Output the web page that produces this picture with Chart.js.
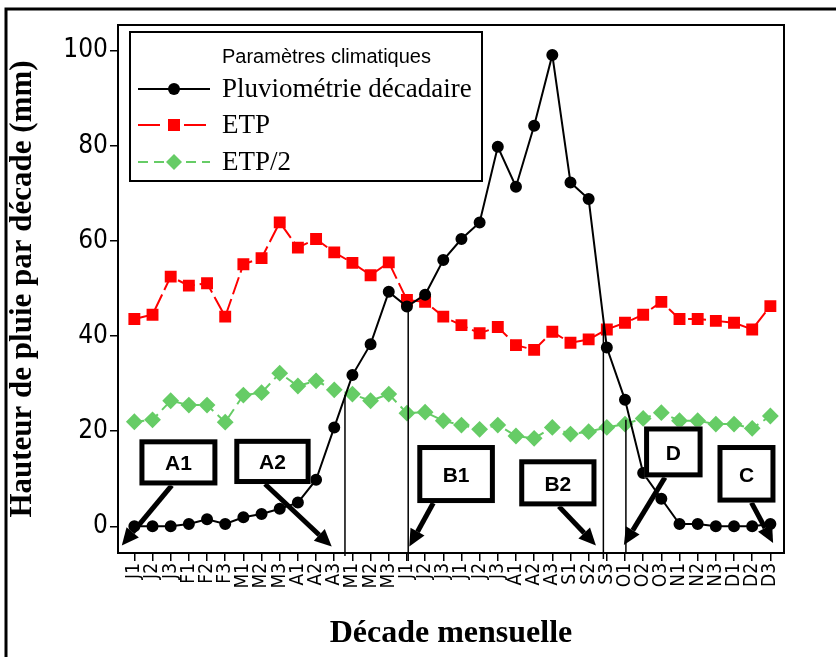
<!DOCTYPE html>
<html lang="fr">
<head>
  <meta charset="utf-8">
  <title>Pluviométrie décadaire et ETP</title>
  <script src="https://cdn.jsdelivr.net/npm/chart.js"></script>
  <style>
    html, body { margin: 0; padding: 0; background: #fff; }
  </style>
</head>
<body>
  <canvas id="graphe" width="836" height="657"></canvas>

  <script>
    // Décades de l'année (axe des x)
    const decades = ['J1','J2','J3','F1','F2','F3','M1','M2','M3','A1','A2','A3',
                     'M1','M2','M3','J1','J2','J3','J1','J2','J3','A1','A2','A3',
                     'S1','S2','S3','O1','O2','O3','N1','N2','N3','D1','D2','D3'];

    // Séries (mm)
    const pluvio = [0, 0, 0, 0.5, 1.5, 0.5, 1.9, 2.6, 3.7, 5.0, 9.8, 20.8,
                    31.8, 38.3, 49.3, 46.2, 48.7, 56.0, 60.4, 63.9, 79.8, 71.4, 84.2, 99.1,
                    72.3, 68.8, 37.6, 26.6, 11.2, 5.8, 0.5, 0.5, 0, 0, 0, 0.5];
    const etp = [43.6, 44.5, 52.5, 50.6, 51.1, 44.1, 55.1, 56.4, 63.9, 58.6, 60.4, 57.6,
                 55.4, 52.8, 55.5, 47.6, 47.2, 44.1, 42.3, 40.6, 41.9, 38.1, 37.1, 40.9,
                 38.6, 39.3, 41.4, 42.8, 44.5, 47.2, 43.6, 43.6, 43.2, 42.8, 41.4, 46.3];
    const etpDemi = [22.0, 22.4, 26.4, 25.5, 25.5, 21.9, 27.6, 28.1, 32.2, 29.5, 30.6, 28.7,
                     27.8, 26.4, 27.8, 23.8, 24.0, 22.2, 21.3, 20.4, 21.3, 19.0, 18.5, 20.8,
                     19.4, 19.9, 20.8, 21.5, 22.7, 23.9, 22.2, 22.2, 21.5, 21.5, 20.6, 23.2];

    // Graduations de l'axe des y
    const yTicks = [0, 20, 40, 60, 80, 100];

    // Repères (en unités du graphique : indice de décade, mm)
    const separations = [
      { x: 11.59, haut: 27.6, bas: 3 },
      { x: 15.07, haut: 47.2, bas: 8 },
      { x: 25.81, haut: 42.3, bas: 6 },
      { x: 27.05, haut: 22.4, bas: 0 }
    ];
    const etiquettes = [
      { texte: 'A1', x0: 0.28,  x1: 4.57,  y0: 8.6,  y1: 18.3, de: [2.06, 8.6],  vers: [-0.69, -4.0] },
      { texte: 'A2', x0: 5.5,   x1: 9.7,   y0: 8.9,  y1: 18.4, de: [7.19, 8.9],  vers: [10.86, -4.25] },
      { texte: 'B1', x0: 15.57, x1: 19.84, y0: 4.9,  y1: 17.1, de: [16.45, 4.9], vers: [15.13, -4.25] },
      { texte: 'B2', x0: 21.18, x1: 25.43, y0: 4.2,  y1: 14.1, de: [23.36, 4.2], vers: [25.4, -4.0] },
      { texte: 'D',  x0: 28.05, x1: 31.27, y0: 10.3, y1: 21.0, de: [29.2, 10.3], vers: [26.94, -3.9] },
      { texte: 'C',  x0: 32.09, x1: 35.28, y0: 5.0,  y1: 17.1, de: [33.96, 5.0], vers: [35.15, -3.5] }
    ];

    const points = arr => arr.map((v, i) => ({ x: i, y: v }));

    function fleche(ctx, x1, y1, x2, y2) {
      const ang = Math.atan2(y2 - y1, x2 - x1);
      const L = 17, W = 8;
      const bx = x2 - L * Math.cos(ang), by = y2 - L * Math.sin(ang);
      ctx.lineWidth = 5;
      ctx.beginPath();
      ctx.moveTo(x1, y1);
      ctx.lineTo(bx, by);
      ctx.stroke();
      ctx.beginPath();
      ctx.moveTo(x2, y2);
      ctx.lineTo(bx + W * Math.sin(ang), by - W * Math.cos(ang));
      ctx.lineTo(bx - W * Math.sin(ang), by + W * Math.cos(ang));
      ctx.closePath();
      ctx.fill();
    }

    // Lignes verticales, cadres et flèches
    const annotations = {
      id: 'annotations',
      afterDatasetsDraw(chart) {
        const { ctx, chartArea: a } = chart;
        const x = chart.scales.x, y = chart.scales.y;
        ctx.save();
        ctx.strokeStyle = '#000';
        ctx.fillStyle = '#000';
        ctx.lineWidth = 1.5;
        separations.forEach(s => {
          const px = x.getPixelForValue(s.x);
          ctx.beginPath();
          ctx.moveTo(px, y.getPixelForValue(s.haut));
          ctx.lineTo(px, a.bottom + s.bas);
          ctx.stroke();
        });
        etiquettes.forEach(e => {
          ctx.fillStyle = '#000';
          fleche(ctx, x.getPixelForValue(e.de[0]), y.getPixelForValue(e.de[1]),
                 x.getPixelForValue(e.vers[0]), y.getPixelForValue(e.vers[1]));
          const l = x.getPixelForValue(e.x0), r = x.getPixelForValue(e.x1);
          const t = y.getPixelForValue(e.y1), b = y.getPixelForValue(e.y0);
          ctx.fillStyle = '#fff';
          ctx.fillRect(l, t, r - l, b - t);
          ctx.lineWidth = 5;
          ctx.strokeRect(l + 2.5, t + 2.5, r - l - 5, b - t - 5);
          ctx.fillStyle = '#000';
          ctx.font = 'bold 21px "Liberation Sans", Arial, sans-serif';
          ctx.textAlign = 'center';
          ctx.textBaseline = 'middle';
          ctx.fillText(e.texte, (l + r) / 2, (t + b) / 2 + 2);
        });
        ctx.restore();
      },
      afterDraw(chart) {
        const { ctx, chartArea: a } = chart;
        ctx.save();
        // cadre du graphique
        ctx.strokeStyle = '#000';
        ctx.lineWidth = 2;
        ctx.strokeRect(a.left, a.top, a.right - a.left, a.bottom - a.top);
        // cadre extérieur (haut et gauche)
        ctx.lineWidth = 3;
        ctx.beginPath();
        ctx.moveTo(6, 657);
        ctx.lineTo(6, 9);
        ctx.lineTo(836, 9);
        ctx.stroke();

        // légende
        const lx = a.left + 12, ly = a.top + 7;
        ctx.fillStyle = '#fff';
        ctx.fillRect(lx, ly, 352, 149);
        ctx.lineWidth = 2;
        ctx.strokeRect(lx, ly, 352, 149);
        ctx.fillStyle = '#000';
        ctx.textAlign = 'left';
        ctx.textBaseline = 'alphabetic';
        ctx.font = '20px "Liberation Sans", Arial, sans-serif';
        ctx.fillText('Paramètres climatiques', lx + 92, ly + 31);

        const items = [
          { texte: 'Pluviométrie décadaire', couleur: '#000', dash: [], forme: 'rond', dy: 57 },
          { texte: 'ETP', couleur: '#ff0000', dash: [22, 8, 8, 8], forme: 'carre', dy: 93 },
          { texte: 'ETP/2', couleur: '#66cc66', dash: [10, 6], forme: 'losange', dy: 130 }
        ];
        items.forEach(it => {
          const cy = ly + it.dy;
          ctx.strokeStyle = it.couleur;
          ctx.fillStyle = it.couleur;
          ctx.lineWidth = 2;
          ctx.setLineDash(it.dash);
          ctx.beginPath();
          ctx.moveTo(lx + 8, cy);
          ctx.lineTo(lx + 80, cy);
          ctx.stroke();
          ctx.setLineDash([]);
          const mx = lx + 44;
          ctx.beginPath();
          if (it.forme === 'rond') ctx.arc(mx, cy, 6, 0, Math.PI * 2);
          else if (it.forme === 'carre') ctx.rect(mx - 6, cy - 6, 12, 12);
          else { ctx.moveTo(mx, cy - 8); ctx.lineTo(mx + 8, cy); ctx.lineTo(mx, cy + 8); ctx.lineTo(mx - 8, cy); ctx.closePath(); }
          ctx.fill();
          ctx.fillStyle = '#000';
          ctx.font = '27px "Liberation Serif", "Times New Roman", serif';
          ctx.fillText(it.texte, lx + 92, cy + 8);
        });
        ctx.restore();
      }
    };

    const policeTicks = '"DejaVu Sans Condensed", "Liberation Sans", Arial, sans-serif';

    new Chart(document.getElementById('graphe'), {
      type: 'line',
      data: {
        datasets: [
          {
            label: 'Pluviométrie décadaire',
            data: points(pluvio),
            borderColor: '#000',
            backgroundColor: '#000',
            borderWidth: 2,
            pointRadius: 5,
            pointStyle: 'circle',
            tension: 0
          },
          {
            label: 'ETP',
            data: points(etp),
            borderColor: '#ff0000',
            backgroundColor: '#ff0000',
            borderWidth: 2,
            borderDash: [18, 5],
            pointRadius: 7,
            pointStyle: 'rect',
            tension: 0
          },
          {
            label: 'ETP/2',
            data: points(etpDemi),
            borderColor: '#66cc66',
            backgroundColor: '#66cc66',
            borderWidth: 2,
            borderDash: [10, 6],
            pointRadius: 7,
            pointStyle: 'rectRot',
            tension: 0
          }
        ]
      },
      options: {
        responsive: false,
        animation: false,
        devicePixelRatio: 1,
        layout: { padding: { top: 25, right: 52, left: 0, bottom: 0 } },
        plugins: {
          legend: { display: false },
          tooltip: { enabled: false }
        },
        scales: {
          x: {
            type: 'linear',
            min: -0.9,
            max: 35.75,
            afterFit(scale) { scale.height = 104; },
            afterBuildTicks(scale) { scale.ticks = decades.map((d, i) => ({ value: i })); },
            grid: { drawOnChartArea: false, drawTicks: true, tickLength: 8, color: '#000', lineWidth: 1.5 },
            border: { display: false },
            ticks: {
              autoSkip: false,
              minRotation: 90,
              maxRotation: 90,
              padding: 2,
              color: '#000',
              font: { family: policeTicks, size: 19 },
              callback: v => decades[v]
            },
            title: {
              display: true,
              text: 'Décade mensuelle',
              color: '#000',
              padding: { top: 0, bottom: 4 },
              font: { family: '"Liberation Serif", "Times New Roman", serif', size: 32, weight: 'bold' }
            }
          },
          y: {
            min: -5.6,
            max: 105.4,
            afterFit(scale) { scale.width = 118; },
            afterBuildTicks(scale) { scale.ticks = yTicks.map(v => ({ value: v })); },
            grid: { drawOnChartArea: false, drawTicks: true, tickLength: 8, color: '#000', lineWidth: 1.5 },
            border: { display: false },
            ticks: {
              padding: 2,
              color: '#000',
              font: { family: policeTicks, size: 26 }
            },
            title: {
              display: true,
              text: 'Hauteur de pluie par décade (mm)',
              color: '#000',
              padding: { top: 4, bottom: 0 },
              font: { family: '"Liberation Serif", "Times New Roman", serif', size: 31, weight: 'bold' }
            }
          }
        }
      },
      plugins: [annotations]
    });
  </script>
</body>
</html>
